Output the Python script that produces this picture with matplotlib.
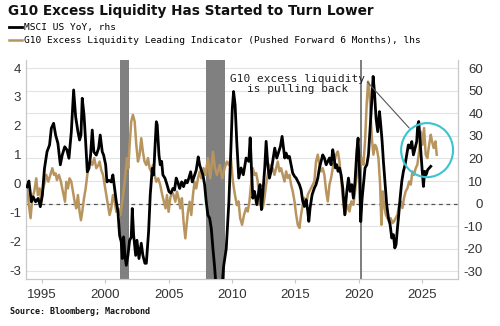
import matplotlib
matplotlib.use("Agg")
import matplotlib.pyplot as plt
from matplotlib.patches import Ellipse
from matplotlib.lines import Line2D
from matplotlib.transforms import blended_transform_factory

plt.rcParams['axes.unicode_minus'] = False

# MSCI US YoY (%), right axis
msci_t = [1993.82, 1993.97, 1994.16, 1994.3, 1994.5, 1994.7, 1994.87, 1995.03, 1995.2, 1995.4,
          1995.6, 1995.74, 1995.92, 1996.08, 1996.26, 1996.45, 1996.6, 1996.8, 1996.97, 1997.13,
          1997.32, 1997.5, 1997.66, 1997.84, 1997.97, 1998.08, 1998.18, 1998.32, 1998.45, 1998.58,
          1998.71, 1998.84, 1998.97, 1999.1, 1999.29, 1999.47, 1999.6, 1999.76, 1999.87, 2000.03,
          2000.13, 2000.29, 2000.47, 2000.6, 2000.74, 2000.87, 2001.0, 2001.13, 2001.26, 2001.34,
          2001.45, 2001.55, 2001.66, 2001.79, 2001.92, 2002.05, 2002.13, 2002.24, 2002.4, 2002.5,
          2002.66, 2002.84, 2002.97, 2003.13, 2003.24, 2003.42, 2003.55, 2003.71, 2003.82, 2003.92,
          2004.03, 2004.1, 2004.24, 2004.34, 2004.45, 2004.55, 2004.71, 2004.87, 2005.03, 2005.18,
          2005.34, 2005.47, 2005.6, 2005.74, 2005.87, 2006.03, 2006.18, 2006.34, 2006.47, 2006.6,
          2006.74, 2006.87, 2007.05, 2007.18, 2007.34, 2007.45, 2007.58, 2007.71, 2007.84, 2007.97,
          2008.1, 2008.24, 2008.37, 2008.5, 2008.63, 2008.76, 2008.95, 2009.15, 2009.34, 2009.55,
          2009.76, 2009.9, 2010.03, 2010.13, 2010.25, 2010.38, 2010.54, 2010.72, 2010.9, 2011.12,
          2011.33, 2011.44, 2011.54, 2011.65, 2011.78, 2011.96, 2012.12, 2012.22, 2012.33, 2012.43,
          2012.59, 2012.7, 2012.83, 2012.96, 2013.09, 2013.22, 2013.38, 2013.54, 2013.7, 2013.83,
          2013.96, 2014.07, 2014.17, 2014.28, 2014.41, 2014.54, 2014.67, 2014.8, 2014.94, 2015.07,
          2015.2, 2015.33, 2015.46, 2015.59, 2015.72, 2015.86, 2015.99, 2016.07, 2016.17, 2016.33,
          2016.51, 2016.64, 2016.78, 2016.91, 2017.04, 2017.17, 2017.3, 2017.44, 2017.57, 2017.7,
          2017.83, 2017.96, 2018.07, 2018.17, 2018.28, 2018.38, 2018.49, 2018.62, 2018.75, 2018.91,
          2019.07, 2019.2, 2019.33, 2019.46, 2019.59, 2019.72, 2019.86, 2019.96, 2020.07, 2020.17,
          2020.28, 2020.38, 2020.51, 2020.65, 2020.78, 2020.91, 2021.04, 2021.15, 2021.25, 2021.38,
          2021.51, 2021.65, 2021.75, 2021.86, 2021.96, 2022.1, 2022.22, 2022.36, 2022.49, 2022.62,
          2022.75, 2022.86, 2022.96, 2023.07, 2023.17, 2023.28, 2023.41, 2023.54, 2023.67, 2023.8,
          2023.93, 2024.07, 2024.2, 2024.33, 2024.46, 2024.59, 2024.67, 2024.75, 2024.86, 2024.99,
          2025.12, 2025.22, 2025.33, 2025.46, 2025.59, 2025.7]
msci_yoy = [7.4, 10.0, 0.8, 3.0, 0.8, 2.3, -1.4, 3.7, 15.6, 23.0,
            26.0, 33.4, 35.6, 30.4, 26.7, 17.2, 21.5, 25.2, 23.8, 20.1,
            31.9, 50.4, 38.5, 31.9, 28.2, 30.4, 46.7, 39.3, 27.4, 14.1,
            15.6, 21.5, 32.6, 22.9, 21.5, 24.5, 30.4, 23.0, 21.5, 17.2,
            9.6, 10.3, 9.6, 12.7, 6.7, 0.8, -3.7, -14.1, -17.0, -24.4,
            -14.8, -23.0, -27.4, -23.0, -16.3, -15.0, -2.2, -14.1, -23.0, -16.3,
            -24.4, -17.6, -23.0, -26.5, -26.5, -12.5, 3.9, 15.6, 12.7, 24.5,
            36.3, 35.0, 21.5, 17.2, 18.7, 12.7, 11.3, 8.5, 5.3, 4.6,
            6.7, 6.0, 11.3, 9.2, 6.7, 9.6, 7.5, 10.3, 9.2, 11.3,
            14.1, 9.6, 12.7, 14.8, 20.7, 17.2, 14.8, 12.7, 8.5, 0.8,
            -5.1, -6.5, -11.1, -20.0, -28.0, -38.0, -44.0, -42.0, -28.0, -20.0,
            0.8, 21.5, 42.3, 49.7, 43.8, 27.6, 11.3, 15.8, 12.8, 20.2,
            18.7, 29.2, 15.8, 2.4, 5.4, -0.5, 5.4, 8.4, -2.7, 3.9,
            15.8, 27.6, 17.2, 11.3, 14.3, 18.7, 24.6, 20.2, 23.1, 25.4,
            29.8, 24.6, 20.2, 22.4, 20.2, 20.9, 17.2, 13.5, 12.1, 11.3,
            9.8, 8.4, 6.1, 1.0, -1.3, 1.7, -3.5, -7.9, -2.0, 3.9,
            6.9, 8.4, 11.3, 15.8, 18.7, 21.6, 20.2, 17.2, 18.7, 20.2,
            17.2, 23.9, 20.2, 15.8, 17.2, 14.3, 15.8, 12.8, 6.9, -5.0,
            5.4, 11.3, 5.4, 8.4, 2.4, 9.8, 23.1, 29.0, 14.3, -8.0,
            2.4, 8.4, 15.8, 17.2, 21.6, 33.4, 45.3, 56.4, 49.7, 37.9,
            31.9, 40.8, 34.9, 27.5, 18.7, 8.4, -0.5, -6.4, -9.4, -15.3,
            -13.8, -19.7, -18.2, -10.8, -5.0, 2.4, 9.8, 14.3, 17.2, 21.6,
            26.0, 24.6, 27.5, 21.6, 24.6, 27.5, 34.9, 36.4, 27.5, 17.2,
            7.6, 14.3, 12.8, 15.0, 15.8, 16.5]

# G10 excess liquidity leading indicator (pushed forward 6 months), left axis
liq_t = [1993.82, 1993.97, 1994.1, 1994.24, 1994.39, 1994.55, 1994.68, 1994.82, 1994.95, 1995.08,
         1995.2, 1995.34, 1995.5, 1995.66, 1995.82, 1995.95, 1996.08, 1996.18, 1996.34, 1996.5,
         1996.6, 1996.71, 1996.82, 1996.92, 1997.05, 1997.18, 1997.32, 1997.45, 1997.58, 1997.71,
         1997.84, 1997.97, 1998.08, 1998.18, 1998.32, 1998.45, 1998.58, 1998.71, 1998.84, 1998.97,
         1999.13, 1999.29, 1999.45, 1999.55, 1999.68, 1999.82, 1999.95, 2000.08, 2000.21, 2000.34,
         2000.47, 2000.6, 2000.74, 2000.87, 2001.03, 2001.18, 2001.34, 2001.53, 2001.71, 2001.82,
         2001.92, 2002.05, 2002.18, 2002.32, 2002.45, 2002.58, 2002.71, 2002.84, 2002.97, 2003.1,
         2003.24, 2003.37, 2003.5, 2003.63, 2003.76, 2003.89, 2004.03, 2004.18, 2004.34, 2004.5,
         2004.63, 2004.76, 2004.87, 2005.0, 2005.13, 2005.26, 2005.39, 2005.53, 2005.66, 2005.79,
         2005.92, 2006.05, 2006.18, 2006.32, 2006.42, 2006.53, 2006.66, 2006.79, 2006.92, 2007.05,
         2007.18, 2007.32, 2007.45, 2007.58, 2007.76, 2007.92, 2008.1, 2008.29, 2008.5, 2008.66,
         2008.82, 2009.03, 2009.24, 2009.42, 2009.6, 2009.76, 2009.92, 2010.08, 2010.24, 2010.39,
         2010.52, 2010.65, 2010.8, 2010.96, 2011.12, 2011.25, 2011.38, 2011.51, 2011.65, 2011.78,
         2011.91, 2012.04, 2012.17, 2012.3, 2012.43, 2012.57, 2012.7, 2012.83, 2012.96, 2013.09,
         2013.22, 2013.36, 2013.49, 2013.62, 2013.75, 2013.88, 2014.01, 2014.15, 2014.28, 2014.41,
         2014.54, 2014.67, 2014.8, 2014.94, 2015.07, 2015.2, 2015.33, 2015.46, 2015.59, 2015.72,
         2015.86, 2015.99, 2016.12, 2016.25, 2016.38, 2016.51, 2016.64, 2016.78, 2016.91, 2017.04,
         2017.17, 2017.3, 2017.44, 2017.57, 2017.7, 2017.83, 2017.96, 2018.09, 2018.22, 2018.36,
         2018.49, 2018.62, 2018.75, 2018.93, 2019.12, 2019.28, 2019.43, 2019.59, 2019.72, 2019.86,
         2019.99, 2020.12, 2020.25, 2020.38, 2020.51, 2020.65, 2020.75, 2020.86, 2020.96, 2021.07,
         2021.17, 2021.3, 2021.43, 2021.57, 2021.7, 2021.8, 2021.91, 2022.01, 2022.15, 2022.28,
         2022.41, 2022.54, 2022.67, 2022.8, 2022.93, 2023.07, 2023.2, 2023.33, 2023.46, 2023.59,
         2023.72, 2023.86, 2023.99, 2024.12, 2024.25, 2024.38, 2024.51, 2024.64, 2024.78, 2024.91,
         2025.04, 2025.17, 2025.3, 2025.43, 2025.57, 2025.7, 2025.8, 2025.93, 2026.07, 2026.17]
liq_val = [-0.17, -0.75, -1.2, -0.5, -0.28, 0.18, -0.4, -0.17, -0.63, -0.17,
           0.0, 0.3, 0.06, 0.3, 0.53, 0.3, 0.35, 0.12, 0.3, 0.06,
           -0.17, -0.4, -0.63, 0.06, -0.17, 0.18, 0.06, -0.28, -0.63, -0.86,
           -0.4, -0.98, -1.27, -0.98, -0.51, -0.17, 0.3, 0.64, 0.76, 0.64,
           0.88, 0.53, 0.64, 0.76, 0.47, 0.3, -0.05, -0.4, -0.75, -1.09,
           -0.86, -0.4, -0.63, -0.98, -0.86, -1.09, -0.63, 0.06, 0.88, 0.53,
           1.34, 2.15, 2.38, 2.15, 1.34, 0.76, 0.99, 1.57, 1.1, 0.76,
           0.64, 0.88, 0.53, 0.41, 0.64, 0.3, 0.06, 0.18, -0.05, -0.4,
           -0.63, -0.86, -0.4, -0.98, -0.51, -0.28, -0.4, -0.63, -0.28, -0.51,
           -0.86, -0.51, -1.32, -1.9, -1.44, -0.98, -0.63, -1.09, -0.4, 0.06,
           -0.17, 0.18, 0.41, 0.18, 0.53, 0.3, 0.88, 0.18, 1.1, 0.53,
           0.3, 0.64, 0.18, 0.53, 0.76, 0.64, 0.88, 0.06, -0.4, -0.75,
           -0.62, -1.2, -1.43, -1.08, -0.85, -0.97, -0.62, -0.04, 0.53, 0.3,
           0.36, 0.07, -0.74, -0.27, -0.85, -0.5, -0.04, 0.3, 0.65, 0.42,
           0.53, 0.3, 0.53, 0.76, 0.42, 0.53, 0.3, 0.07, 0.42, 0.19,
           0.3, -0.04, -0.27, -0.62, -1.08, -1.43, -1.54, -1.08, -0.74, -0.5,
           -0.74, -0.39, -0.27, -0.16, -0.04, 0.07, 0.76, 1.0, 0.65, 0.42,
           0.53, 0.3, -0.27, -0.62, -0.04, 0.19, 0.53, 0.76, 1.0, 1.11,
           0.76, 0.19, -0.5, -1.08, -0.74, -0.97, -0.62, -0.74, -0.27, 0.3,
           0.65, 0.53, 0.88, 0.65, 1.46, 2.84, 3.53, 3.19, 2.26, 1.46,
           1.0, 1.34, 1.23, 0.88, -0.04, -1.43, -0.27, -0.74, -1.08, -1.2,
           -1.31, -1.2, -1.37, -1.31, -1.2, -1.08, -0.74, -0.62, -0.85, -0.5,
           -0.27, -0.16, 0.07, -0.04, 0.42, 0.3, 0.53, 0.65, 1.11, 1.8,
           1.34, 1.92, 1.0, 0.88, 1.34, 1.69, 1.46, 1.23, 1.46, 1.0]

# recessions (start, end)
recessions = [(2001.2, 2001.85), (2007.95, 2009.45), (2020.08, 2020.24)]

left_ticks = [4, 3, 2, 1, 0, -1, -2, -3]
right_ticks = [60, 50, 40, 30, 20, 10, 0, -10, -20, -30]
year_ticks = [1995, 2000, 2005, 2010, 2015, 2020, 2025]

GOLD = '#b8955f'
TICK_FONT = 'Liberation Sans'
MONO = 'DejaVu Sans Mono'

fig = plt.figure(figsize=(5.0, 3.26), dpi=100)
ax = fig.add_axes([0.052, 0.144, 0.864, 0.672])
ax2 = ax.twinx()

ax.set_xlim(1993.74, 2027.85)
ax.set_ylim(-3.31, 4.28)
ax2.set_ylim(-33.5, 63.7)

# grid and zero line follow the right-hand scale but sit under the lines
ytrans = blended_transform_factory(ax.transAxes, ax2.transData)
for v in right_ticks:
    ax.add_line(Line2D([0, 1], [v, v], transform=ytrans, color='#e3e3e3', lw=0.8, zorder=0))
ax.add_line(Line2D([0, 1], [0, 0], transform=ytrans, color='#555555', lw=0.9,
                   ls=(0, (3, 3)), zorder=1))

for a, b in recessions:
    ax.axvspan(a, b, color='#808080', lw=0, zorder=1)

gold_line, = ax.plot(liq_t, liq_val, color=GOLD, lw=1.8, zorder=2,
                     label='G10 Excess Liquidity Leading Indicator (Pushed Forward 6 Months), lhs')
black_line, = ax2.plot(msci_t, msci_yoy, color='black', lw=2.0, zorder=3,
                       label='MSCI US YoY, rhs')

ax.set_yticks(left_ticks)
ax2.set_yticks(right_ticks)
ax.set_xticks(year_ticks)

for a in (ax, ax2):
    for s in a.spines.values():
        s.set_color('#c8c8c8')
        s.set_linewidth(0.8)
    a.spines['top'].set_visible(False)

ax.tick_params(axis='y', length=0, pad=3.6, labelsize=9.5, labelcolor='#333333')
ax2.tick_params(axis='y', length=0, pad=18, labelsize=9.5, labelcolor='#333333')
for lbl in ax2.get_yticklabels():
    lbl.set_horizontalalignment('right')
ax.tick_params(axis='x', length=3, color='#c8c8c8', pad=4, labelsize=9.5, labelcolor='#333333')
for lbl in ax.get_xticklabels() + ax.get_yticklabels() + ax2.get_yticklabels():
    lbl.set_fontfamily(TICK_FONT)

# callout
ax2.annotate('G10 excess liquidity\nis pulling back', xy=(2024.0, 33.5), xytext=(2015.15, 53),
             ha='center', va='center', fontsize=8, family=MONO, color='#222222',
             linespacing=1.05,
             arrowprops=dict(arrowstyle='-', color='#555555', lw=0.8,
                             shrinkA=0, shrinkB=0, relpos=(1.0, 0.75)))
ax2.add_patch(Ellipse((2025.41, 23.7), 4.1, 24, fill=False, ec='#3cc3d2', lw=1.5, zorder=4))

fig.text(0.016, 0.965, 'G10 Excess Liquidity Has Started to Turn Lower',
         fontsize=9.8, fontweight='bold', va='center', ha='left', color='#111111')
fig.legend(handles=[black_line, gold_line], loc='upper left', bbox_to_anchor=(0.015, 0.935),
           frameon=False, prop={'family': MONO, 'size': 6.8}, handlelength=1.3,
           handletextpad=0.2, borderaxespad=0, labelspacing=0.45, borderpad=0.2)
fig.text(0.02, 0.043, 'Source: Bloomberg; Macrobond', fontsize=6, fontweight='bold',
         family=MONO, va='center', ha='left', color='#111111')

fig.savefig('out.png', dpi=100)
